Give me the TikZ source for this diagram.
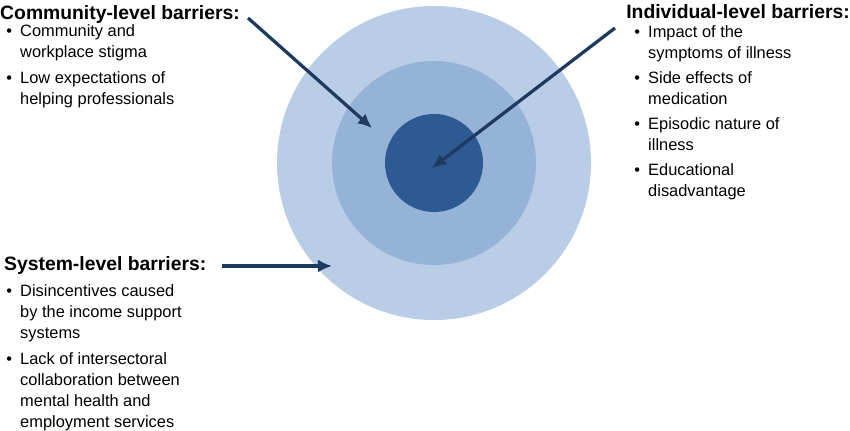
\documentclass[tikz,border=0pt]{standalone}
\usepackage{fontspec}
\usetikzlibrary{arrows.meta}
\setmainfont{Liberation Sans}
\newcommand{\bl}{\llap{•\hspace{7pt}}}
\begin{document}
\begin{tikzpicture}[x=0.03cm,y=-0.03cm,
  head/.style={font=\fontsize{16.5pt}{19pt}\selectfont\bfseries,inner sep=0pt},
  item/.style={font=\fontsize{14pt}{17.9pt}\selectfont,inner sep=0pt,anchor=north west,align=left},
  arr/.style={draw=navy,line width=2.8pt,-{Latex[length=12pt,width=11pt]}}]
\definecolor{navy}{HTML}{1F3A5F}
\useasboundingbox (0,0) rectangle (850,431);
\fill[fill={rgb,255:red,185;green,205;blue,230}] (434,163) circle[radius=157];
\fill[fill={rgb,255:red,149;green,179;blue,215}] (434,163) circle[radius=102];
\fill[fill={rgb,255:red,46;green,90;blue,147}] (434,163) circle[radius=49];
\coordinate (cen) at (432,168);
\coordinate (mid) at (372,128);
\coordinate (out) at (332,266);
% community
\node[head,anchor=west] (ch) at (0,15) {Community-level barriers:};
\node[item] (c1) at (20,24) {\bl Community and\\workplace stigma};
\node[item] (c2) at (20,71) {\bl Low expectations of\\helping professionals};
% individual
\node[head,anchor=east] (ih) at (850,12) {Individual-level barriers:};
\node[item] (i1) at (648,25) {\bl Impact of the\\symptoms of illness};
\node[item] (i2) at (648,71) {\bl Side effects of\\medication};
\node[item] (i3) at (648,117) {\bl Episodic nature of\\illness};
\node[item] (i4) at (648,163) {\bl Educational\\disadvantage};
% system
\node[head,anchor=west] (sh) at (4,266) {System-level barriers:};
\node[item] (s1) at (20,284) {\bl Disincentives caused\\by the income support\\systems};
\node[item] (s2) at (20,352) {\bl Lack of intersectoral\\collaboration between\\mental health and\\employment services};
% arrows
\coordinate (ca) at (248,18);
\coordinate (ia) at (615,28);
\coordinate (sa) at (222,266);
\draw[arr] (ca) -- (mid);
\draw[arr] (ia) -- (cen);
\draw[arr] (sa) -- (out);
\end{tikzpicture}
\end{document}
